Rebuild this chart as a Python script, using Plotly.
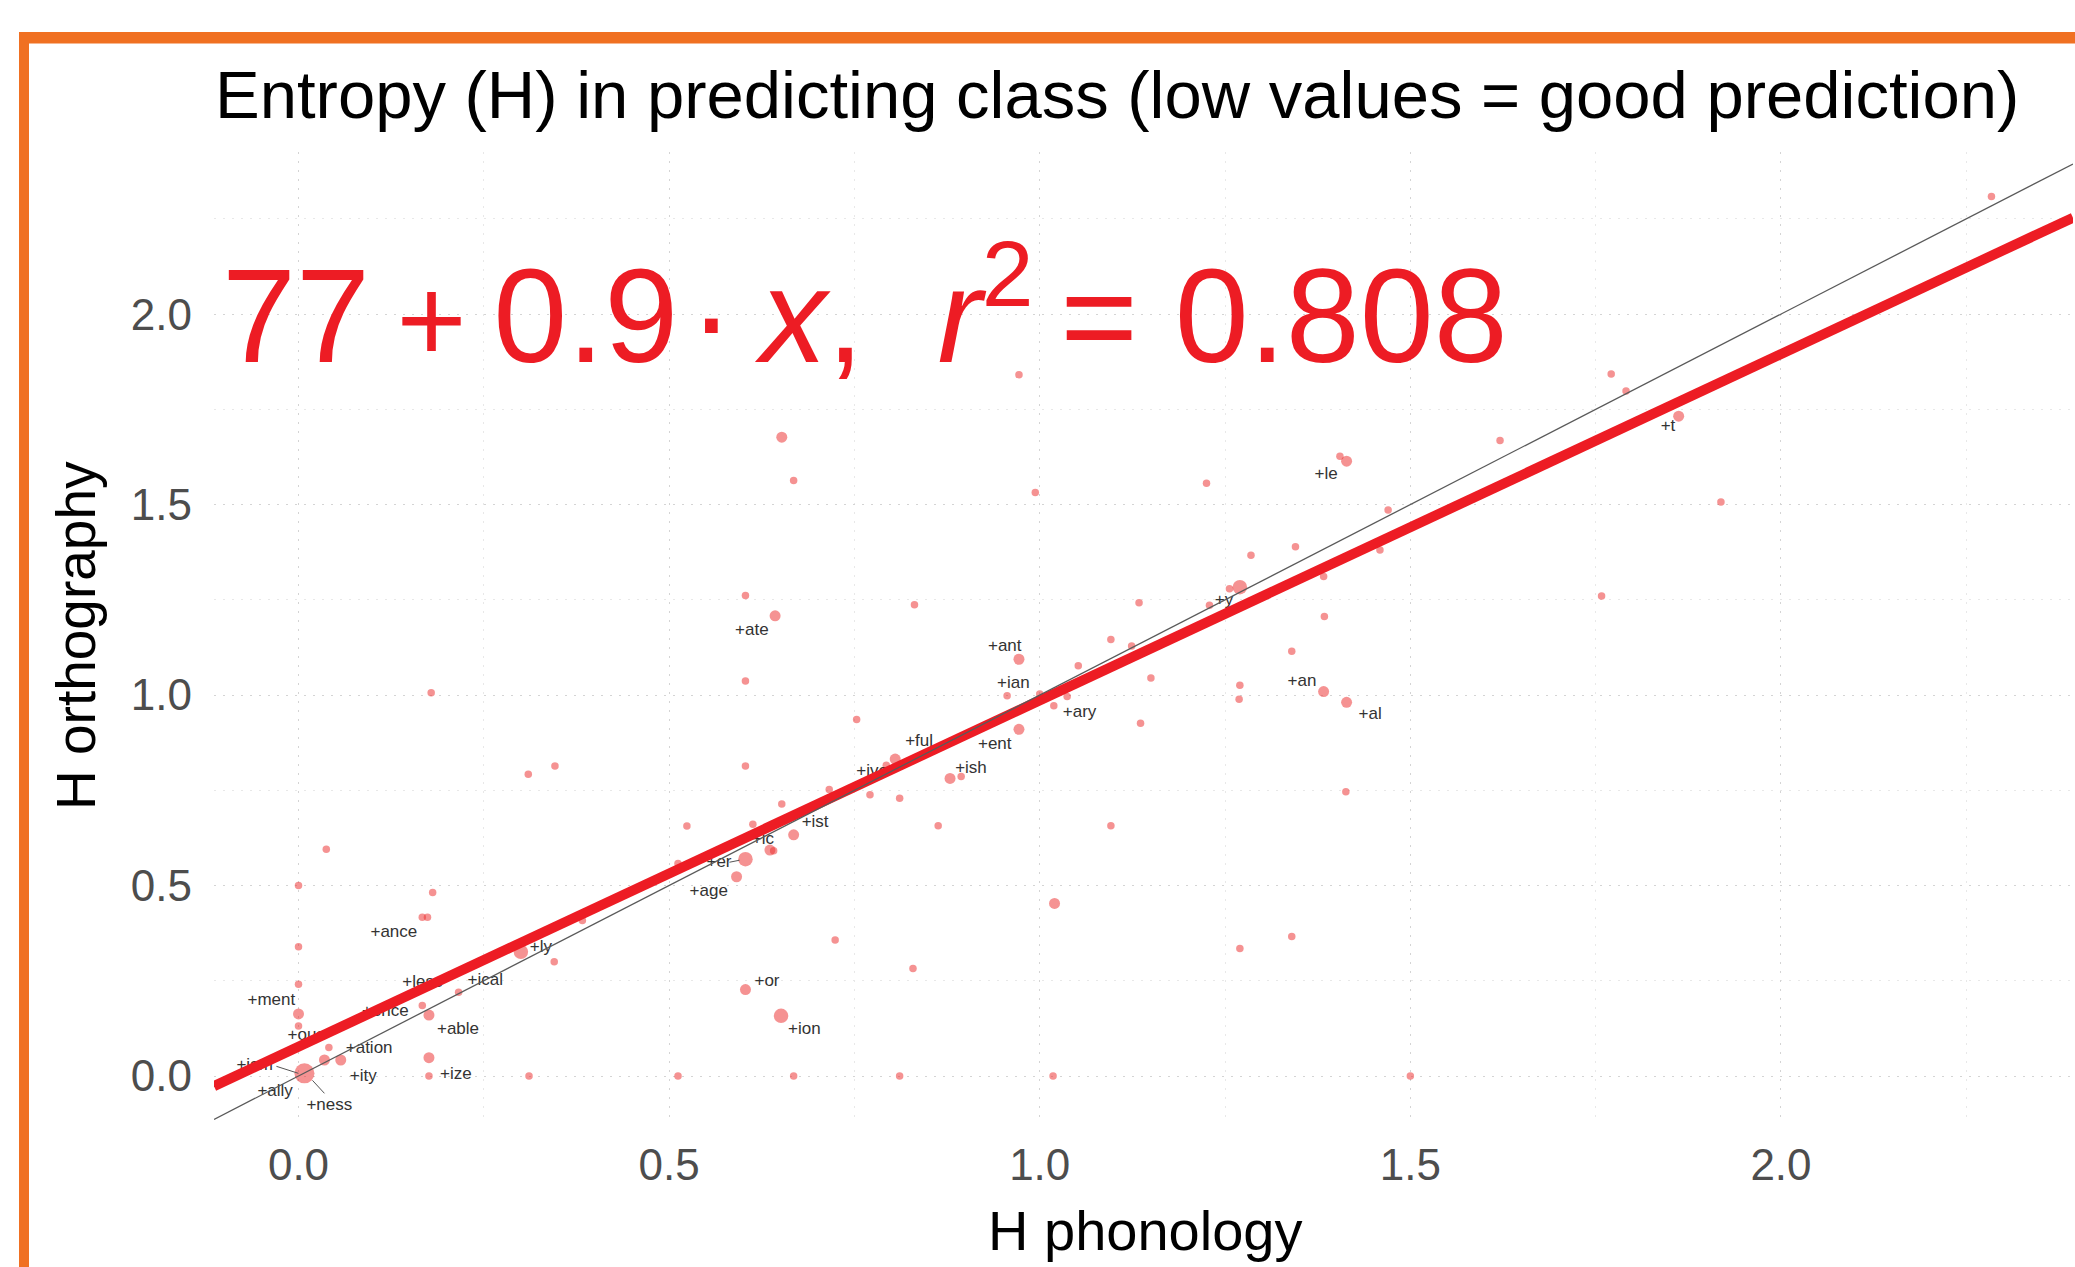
import plotly.graph_objects as go

# ---------------- data ----------------
h_phonology = [
    2.284, 1.771, 1.791, 1.862, 1.919, 1.621, 1.470, 1.459, 1.405, 1.414,
    1.225, 1.345, 1.285, 1.270, 1.256, 1.229, 1.383, 1.384, 1.340, 1.758,
    1.270, 1.269, 1.383, 1.414, 0.994, 0.831, 1.134, 1.096, 1.124, 1.052,
    1.150, 0.972, 0.956, 1.000, 1.037, 1.019, 1.136, 0.972, 0.603, 0.643,
    0.603, 0.753, 0.603, 1.096, 0.863, 0.811, 0.771, 0.805, 0.793, 0.879,
    0.894, 0.716, 0.652, 0.613, 0.524, 0.668, 0.636, 0.641, 0.603, 0.591,
    0.512, 0.972, 0.652, 0.668, 0.179, 0.310, 0.346, 0.0375, 0.000, 0.181,
    0.167, 0.174, 0.724, 0.829, 1.020, 1.413, 1.270, 1.340, 0.603, 0.651,
    0.300, 0.345, 0.383, 0.216, 0.167, 0.176, 0.176, 0.176, 0.000, 0.000,
    0.000, 0.000, 0.041, 0.035, 0.057, 0.008, 0.311, 0.512, 0.668, 0.811,
    1.018, 1.500,
]
h_orthography = [
    2.309, 1.843, 1.798, 1.732, 1.507, 1.668, 1.486, 1.381, 1.627, 1.614,
    1.556, 1.389, 1.367, 1.283, 1.279, 1.236, 1.311, 1.206, 1.115, 1.260,
    1.026, 0.989, 1.009, 0.981, 1.532, 1.237, 1.242, 1.146, 1.129, 1.077,
    1.045, 1.094, 0.998, 1.003, 0.996, 0.972, 0.926, 0.910, 1.261, 1.208,
    1.037, 0.936, 0.814, 0.657, 0.657, 0.729, 0.738, 0.832, 0.816, 0.781,
    0.786, 0.752, 0.714, 0.661, 0.656, 0.633, 0.593, 0.591, 0.569, 0.523,
    0.558, 1.841, 1.677, 1.563, 1.006, 0.792, 0.814, 0.595, 0.500, 0.482,
    0.417, 0.417, 0.357, 0.282, 0.453, 0.746, 0.335, 0.366, 0.227, 0.158,
    0.326, 0.300, 0.408, 0.220, 0.185, 0.160, 0.048, 0.000, 0.339, 0.241,
    0.163, 0.131, 0.075, 0.042, 0.042, 0.007, 0.000, 0.000, 0.000, 0.000,
    0.000, 0.000,
]
# relative frequency class of each suffix (1 = rare ... 4 = very frequent)
frequency_class = [
    1, 1, 1, 2, 1, 1, 1, 1, 1, 2,
    1, 1, 1, 3, 1, 1, 1, 1, 1, 1,
    1, 1, 2, 2, 1, 1, 1, 1, 1, 1,
    1, 2, 1, 1, 1, 1, 1, 2, 1, 2,
    1, 1, 1, 1, 1, 1, 1, 2, 1, 2,
    1, 1, 1, 1, 1, 2, 2, 1, 3, 2,
    1, 1, 2, 1, 1, 1, 1, 1, 1, 1,
    1, 1, 1, 1, 2, 1, 1, 1, 2, 3,
    3, 1, 1, 1, 1, 2, 2, 1, 1, 1,
    2, 1, 1, 2, 2, 4, 1, 1, 1, 1,
    1, 1,
]

suffix_labels = [
    "+t", "+le", "+y", "+an", "+al", "+ant", "+ian", "+ary", "+ent", "+ful",
    "+ish", "+ive", "+ist", "+ic", "+er", "+age", "+or", "+ion", "+ance", "+ly",
    "+ical", "+less", "+ence", "+able", "+ment", "+ous", "+ation", "+ity", "+ize",
    "+ism", "+ally", "+ness", "+ate",
]
label_point = [
    3, 9, 13, 22, 23, 31, 32, 35, 37, 47,
    50, 48, 55, 56, 58, 59, 78, 79, 71, 80,
    83, 84, 85, 85, 90, 91, 94, 94, 87,
    95, 95, 95, 39,
]

fit_intercept = 0.077
fit_slope = 0.909
fit_r2 = 0.808

x_tick_vals = [0.0, 0.5, 1.0, 1.5, 2.0]
y_tick_vals = [0.0, 0.5, 1.0, 1.5, 2.0]
x_minor_vals = [0.25, 0.75, 1.25, 1.75, 2.25]
y_minor_vals = [0.25, 0.75, 1.25, 1.75, 2.25]

title_text = "Entropy (H) in predicting class (low values = good prediction)"
x_title_text = "H phonology"
y_title_text = "H orthography"

# ---------------- layout / style constants ----------------
W, H = 2075, 1267
M_L, M_R, M_T, M_B = 214, 2, 152, 147
X_RANGE = [-0.114, 2.394]
Y_RANGE = [-0.1155, 2.4255]
PW, PH = W - M_L - M_R, H - M_T - M_B
SX = PW / (X_RANGE[1] - X_RANGE[0])   # px per unit
SY = PH / (Y_RANGE[1] - Y_RANGE[0])

FONT = "Liberation Sans, Arial, Helvetica, sans-serif"
RED = "#ED1C24"
ORANGE = "#F07022"
POINT_COLOR = "rgba(236,48,48,0.75)"
SIZE_BY_CLASS = {1: 7.5, 2: 11, 3: 14.5, 4: 20}

# label offsets in pixels (left edge of text, vertical middle) relative to point
label_dx = [-18, -32, -25, -36, 12, -31, -10, 9, -41, 10,
            -6, -30, 8, -18, -39, -47, 9, 7, -57, 9,
            9, -20, -67, 8, -51, -11, 5, 9, 11,
            -68, -47, 2, -40]
label_dy = [11, 14, 14, -10, 12, -12, -12, 7, 15, -17,
            -8, 7, -12, -10, 4, 15, -8, 14, 16, -4,
            -11, -23, -3, 15, -13, 10, -11, 17, -1,
            -8, 18, 32, 15]
# repel segments: (point, dx0, dy0, dx1, dy1) in pixels
segments = [(58, -16, 3, -6, 1), (95, -28, -7, -6, 0), (95, 8, 7, 20, 20)]


def paper_x(px):
    return (px - M_L) / PW


def paper_y(py):
    return (H - M_B - py) / PH


fig = go.Figure()

# points
fig.add_trace(go.Scatter(
    x=h_phonology, y=h_orthography, mode="markers",
    marker=dict(size=[SIZE_BY_CLASS[c] for c in frequency_class],
                color=POINT_COLOR, line=dict(width=0)),
    hoverinfo="x+y", showlegend=False, cliponaxis=True,
))

# suffix labels
lab_x = [h_phonology[p] + dx / SX for p, dx in zip(label_point, label_dx)]
lab_y = [h_orthography[p] - dy / SY for p, dy in zip(label_point, label_dy)]
fig.add_trace(go.Scatter(
    x=lab_x, y=lab_y, mode="text", text=suffix_labels,
    textposition="middle right",
    textfont=dict(family=FONT, size=17, color="#333333"),
    hoverinfo="skip", showlegend=False, cliponaxis=False,
))

# repel segments
sx, sy = [], []
for p, dx0, dy0, dx1, dy1 in segments:
    sx += [h_phonology[p] + dx0 / SX, h_phonology[p] + dx1 / SX, None]
    sy += [h_orthography[p] - dy0 / SY, h_orthography[p] - dy1 / SY, None]
fig.add_trace(go.Scatter(x=sx, y=sy, mode="lines",
                         line=dict(color="#555555", width=1),
                         hoverinfo="skip", showlegend=False))

# regression line
fit_x = list(X_RANGE)
fit_y = [fit_intercept + fit_slope * v for v in fit_x]
fig.add_trace(go.Scatter(x=fit_x, y=fit_y, mode="lines",
                         line=dict(color=RED, width=10),
                         hoverinfo="skip", showlegend=False))

# identity line
fig.add_trace(go.Scatter(x=list(X_RANGE), y=list(X_RANGE), mode="lines",
                         line=dict(color="#5a5a5a", width=1.3),
                         hoverinfo="skip", showlegend=False))

grid_major = dict(showgrid=True, gridcolor="#d4d4d4", gridwidth=1, griddash="2px,7px")
grid_minor = dict(showgrid=True, gridcolor="#e8e8e8", gridwidth=1, griddash="2px,7px")

fig.update_xaxes(
    range=X_RANGE, tickmode="array", tickvals=x_tick_vals, tickformat=".1f",
    tickfont=dict(family=FONT, size=44, color="#4d4d4d"),
    ticks="", ticklabelstandoff=15, zeroline=False, showline=False,
    minor=dict(tickmode="array", tickvals=x_minor_vals, **grid_minor),
    **grid_major,
)
fig.update_yaxes(
    range=Y_RANGE, tickmode="array", tickvals=y_tick_vals, tickformat=".1f",
    tickfont=dict(family=FONT, size=44, color="#4d4d4d"),
    ticks="", ticklabelstandoff=21, zeroline=False, showline=False,
    minor=dict(tickmode="array", tickvals=y_minor_vals, **grid_minor),
    **grid_major,
)

THIN = "\u2009"
HAIR = "\u200a"
NB = "\u00a0"
PLUS = '<span style="font-size:120px">+</span>'
eq_text = (f"77{THIN}{PLUS}{THIN}{fit_slope:.1f}{HAIR}·{THIN}<i>x</i>,{NB}{NB}"
           f"<i>r</i><sup>2</sup>{THIN}= {fit_r2:.3f}")

annotations = [
    dict(text=title_text, x=paper_x(1117), y=paper_y(94), xref="paper", yref="paper",
         xanchor="center", yanchor="middle", showarrow=False,
         font=dict(family=FONT, size=67, color="#000000")),
    dict(text=eq_text, x=paper_x(220), y=paper_y(392), xref="paper", yref="paper",
         xanchor="left", yanchor="bottom", showarrow=False,
         font=dict(family=FONT, size=133, color=RED)),
    dict(text=x_title_text, x=paper_x(1145), y=paper_y(1230), xref="paper", yref="paper",
         xanchor="center", yanchor="middle", showarrow=False,
         font=dict(family=FONT, size=56, color="#000000")),
    dict(text=y_title_text, x=paper_x(76), y=paper_y(636), xref="paper", yref="paper",
         xanchor="center", yanchor="middle", showarrow=False, textangle=-90,
         font=dict(family=FONT, size=55, color="#000000")),
]

shapes = [
    dict(type="rect", xref="paper", yref="paper", layer="above",
         x0=paper_x(19), x1=paper_x(W + 5), y0=paper_y(43.5), y1=paper_y(32),
         fillcolor=ORANGE, line=dict(width=0)),
    dict(type="rect", xref="paper", yref="paper", layer="above",
         x0=paper_x(19), x1=paper_x(29), y0=paper_y(H + 5), y1=paper_y(32),
         fillcolor=ORANGE, line=dict(width=0)),
]

fig.update_layout(
    width=W, height=H, autosize=False,
    margin=dict(l=M_L, r=M_R, t=M_T, b=M_B, pad=0),
    paper_bgcolor="white", plot_bgcolor="white",
    annotations=annotations, shapes=shapes,
    showlegend=False, font=dict(family=FONT),
)

fig.write_html("out.html", config={"displayModeBar": False},
               post_script="document.body.style.margin='0';document.body.style.padding='0';")
